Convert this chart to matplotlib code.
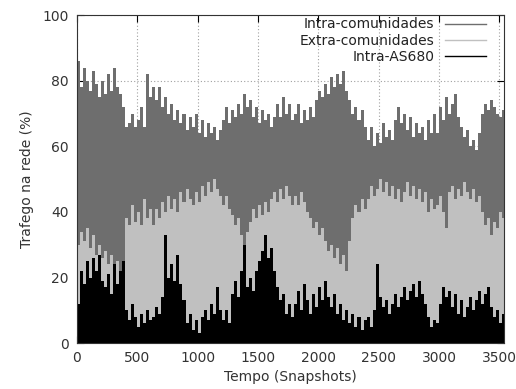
import numpy as np
import matplotlib
matplotlib.use("Agg")
import matplotlib.pyplot as plt

step = 25
snapshots = np.arange(0, 3526, step)

# top of the dark-gray impulses (Intra-comunidades), %
intra_com = [86, 78, 84, 80, 77, 83, 79, 75, 80, 76, 82, 77, 84, 78, 76, 72, 66, 67, 70, 66, 68, 72, 66, 82, 75,
             78, 74, 78, 72, 75, 70, 73, 68, 71, 67, 70, 65, 69, 66, 70, 64, 68, 63, 67, 64, 66, 62, 65,
             68, 72, 67, 71, 69, 73, 70, 76, 72, 74, 69, 72, 67, 71, 68, 70, 66, 69, 73, 69, 75, 70, 73, 68,
             70, 73, 67, 71, 68, 72, 69, 74, 77, 75, 79, 76, 81, 78, 82, 79, 83, 77, 74, 70, 72, 68, 71, 66,
             62, 66, 60, 64, 61, 67, 63, 65, 62, 68, 72, 67, 70, 65, 69, 63, 67, 64, 66, 62, 68, 64, 70,
             64, 72, 68, 75, 70, 73, 76, 69, 66, 63, 65, 60, 62, 59, 64, 70, 73, 71, 74, 72, 70, 69, 71]

# top of the light-gray impulses (Extra-comunidades), %
extra_com = [30, 34, 31, 35, 29, 33, 27, 30, 26, 28, 24, 27, 22, 25, 21, 24, 38, 36, 42, 37, 40, 36, 44, 38, 41,
             36, 41, 38, 43, 40, 45, 41, 44, 40, 46, 43, 47, 44, 42, 46, 43, 48, 45, 49, 46, 50, 47, 45,
             42, 45, 41, 39, 36, 38, 33, 30, 34, 37, 41, 38, 42, 39, 43, 40, 44, 46, 43, 47, 44, 48, 45, 42,
             45, 42, 46, 43, 40, 38, 35, 37, 33, 35, 31, 28, 30, 26, 29, 24, 27, 22, 31, 38, 42, 40, 44, 41,
             44, 48, 45, 47, 50, 46, 49, 45, 48, 44, 47, 43, 46, 49, 45, 48, 44, 47, 43, 46, 40, 44, 41,
             42, 45, 40, 35, 46, 48, 44, 47, 45, 49, 46, 44, 47, 43, 45, 40, 36, 38, 33, 37, 35, 40, 38]

# top of the black impulses (Intra-AS680), %
intra_as = [12, 22, 18, 25, 20, 26, 22, 27, 19, 17, 21, 15, 24, 18, 22, 25, 10, 7, 12, 8, 5, 9, 6, 10, 7,
            8, 11, 9, 14, 33, 20, 24, 19, 27, 18, 13, 6, 9, 4, 7, 3, 8, 10, 7, 12, 9, 17, 10,
            7, 10, 6, 15, 19, 14, 22, 30, 17, 20, 16, 22, 25, 28, 33, 26, 29, 22, 17, 13, 15, 9, 12, 8,
            12, 16, 10, 18, 13, 9, 15, 11, 17, 13, 19, 14, 11, 15, 9, 12, 7, 10, 6, 9, 5, 8, 4, 7,
            8, 5, 10, 24, 14, 11, 13, 9, 12, 15, 11, 14, 17, 13, 16, 18, 14, 19, 15, 12, 8, 5, 7,
            6, 12, 17, 14, 16, 11, 15, 9, 13, 8, 11, 14, 10, 13, 16, 12, 15, 17, 11, 8, 10, 6, 9]

labels = ["Intra-comunidades", "Extra-comunidades", "Intra-AS680"]
colors = ["#6e6e6e", "#c0c0c0", "#000000"]

fig = plt.figure(figsize=(5.16, 3.89), dpi=100)
ax = fig.add_axes([0.149, 0.118, 0.828, 0.843])

# impulses drawn one over another, like gnuplot
for vals, lab, col in zip([intra_com, extra_com, intra_as], labels, colors):
    ax.bar(snapshots, vals, width=step, align="edge", color=col, linewidth=0, zorder=2)
    ax.plot([], [], color=col, lw=1.0, label=lab)

ax.set_xlim(0, 3540)
ax.set_ylim(0, 100)
ax.set_xticks(np.arange(0, 3501, 500))
ax.set_yticks(np.arange(0, 101, 20))
ax.set_axisbelow(True)
ax.grid(True, color="#a0a0a0", linestyle=(0, (1, 2)), linewidth=0.8, zorder=0)
ax.tick_params(direction="in", top=True, right=True, length=5, width=0.8,
               labelsize=10, labelcolor="#333333", pad=6)
for s in ax.spines.values():
    s.set_linewidth(0.8)
    s.set_color("#333333")
    s.set_zorder(5)

ax.set_xlabel("Tempo (Snapshots)", fontsize=10, color="#333333", labelpad=3)
ax.set_ylabel("Trafego na rede (%)", fontsize=10, color="#333333", labelpad=6)

ax.legend(loc="upper right", bbox_to_anchor=(0.97, 1.01), frameon=False,
          markerfirst=False, fontsize=10, handlelength=2.9, handletextpad=0.8,
          labelspacing=0.15, borderaxespad=0.0, labelcolor="#222222")

fig.savefig("out.png", dpi=100)
